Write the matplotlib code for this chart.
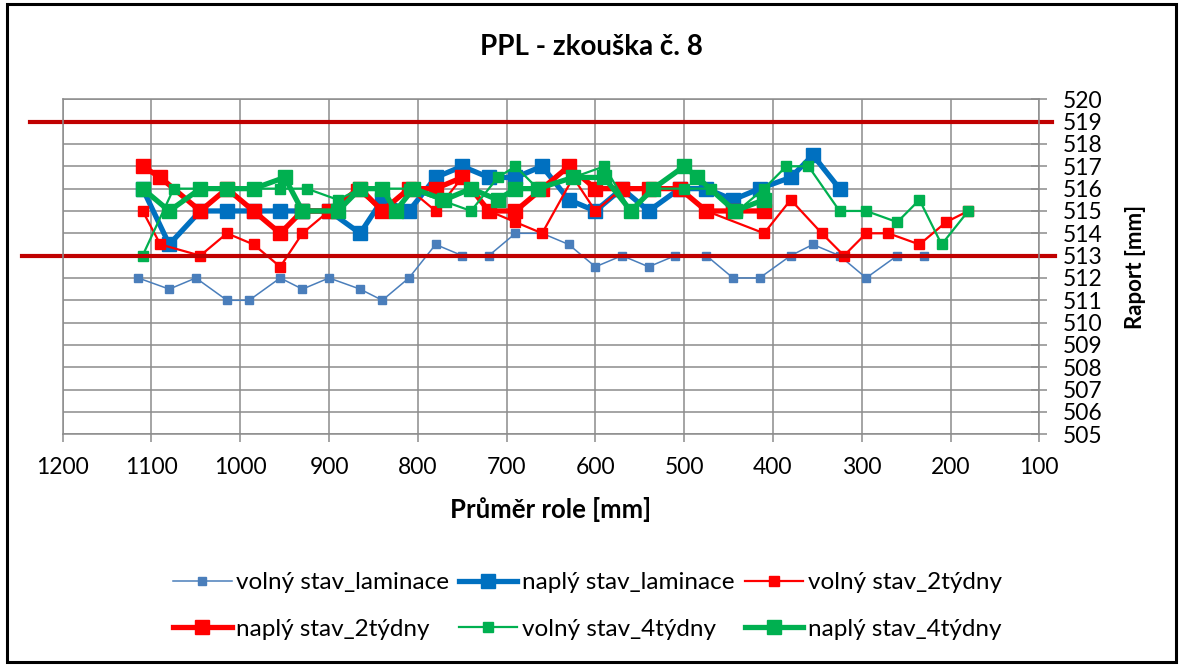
import matplotlib.pyplot as plt
from matplotlib.patches import Rectangle

plt.rcParams['font.family'] = ['Lato', 'DejaVu Sans']

# volný stav_laminace
vl_x = [1115, 1080, 1050, 1015, 990, 955, 930, 900, 865, 840, 810, 780, 750, 720, 690,
        660, 630, 600, 570, 540, 510, 475, 445, 415, 380, 355, 325, 295, 260, 230]
vl_y = [512, 511.5, 512, 511, 511, 512, 511.5, 512, 511.5, 511, 512, 513.5, 513, 513, 514,
        514, 513.5, 512.5, 513, 512.5, 513, 513, 512, 512, 513, 513.5, 513, 512, 513, 513]

# naplý stav_laminace
nl_x = [1110, 1080, 1045, 1015, 985, 955, 930, 900, 865, 840, 810, 780, 750, 720, 690,
        660, 630, 600, 570, 540, 505, 475, 445, 415, 380, 355, 325]
nl_y = [516, 513.5, 515, 515, 515, 515, 515, 515, 514, 515.5, 515, 516.5, 517, 516.5, 516.5,
        517, 515.5, 515, 516, 515, 516, 516, 515.5, 516, 516.5, 517.5, 516]

# volný stav_2týdny
v2_x = [1110, 1090, 1045, 1015, 985, 955, 930, 900, 870, 840, 810, 780, 750, 720, 690,
        660, 625, 600, 570, 540, 505, 475, 410, 380, 345, 320, 295, 270, 235, 205, 180]
v2_y = [515, 513.5, 513, 514, 513.5, 512.5, 514, 515, 516, 515, 516, 515, 516.5, 515, 514.5,
        514, 516.5, 515, 516, 516, 516, 515, 514, 515.5, 514, 513, 514, 514, 513.5, 514.5, 515]

# naplý stav_2týdny
n2_x = [1110, 1090, 1045, 1015, 985, 955, 930, 900, 865, 840, 810, 780, 750, 720, 690,
        660, 630, 600, 570, 540, 505, 475, 445, 410]
n2_y = [517, 516.5, 515, 516, 515, 514, 515, 515, 516, 515, 516, 516, 516.5, 515, 515,
        516, 517, 516, 516, 516, 516, 515, 515, 515]

# volný stav_4týdny
v4_x = [1110, 1075, 1045, 1015, 985, 955, 925, 890, 865, 840, 810, 775, 740, 710, 690,
        665, 625, 590, 560, 535, 500, 470, 440, 410, 385, 360, 325, 295, 260, 235, 210, 180]
v4_y = [513, 516, 516, 516, 516, 516, 516, 515.5, 516, 516, 516, 515.5, 515, 516.5, 517,
        516, 516.5, 517, 515, 516, 516, 516, 515, 516, 517, 517, 515, 515, 514.5, 515.5, 513.5, 515]

# naplý stav_4týdny
n4_x = [1110, 1080, 1045, 1015, 985, 950, 930, 890, 865, 840, 825, 805, 770, 740, 710,
        690, 665, 625, 590, 560, 535, 500, 485, 443, 410]
n4_y = [516, 515, 516, 516, 516, 516.5, 515, 515, 516, 516, 515, 516, 515.5, 516, 515.5,
        516, 516, 516.5, 516.5, 515, 516, 517, 516.5, 515, 515.5]

limits = [519, 513]

W, H = 1182, 666
fig = plt.figure(figsize=(W / 100, H / 100), dpi=100)
ax = fig.add_axes([62.7 / W, 1 - 434.3 / H, 976.6 / W, 335 / H])

grid_c = '#8c8c8c'
ax.set_xlim(1200, 100)
ax.set_ylim(505, 520)
ax.set_xticks(range(1200, 99, -100))
ax.set_yticks(range(505, 521))
ax.grid(True, color=grid_c, linewidth=1.1)
ax.set_axisbelow(True)
for s in ax.spines.values():
    s.set_color(grid_c)
    s.set_linewidth(1.1)

ax.yaxis.tick_right()
ax.yaxis.set_label_position('right')
ax.tick_params(axis='x', direction='out', length=6, width=1.1, color=grid_c, pad=10, labelsize=16.5)
ax.tick_params(axis='y', direction='inout', length=12, width=1.1, color=grid_c, pad=11, labelsize=16.5)

blue1 = '#4a7ebb'
blue2 = '#0070c0'
red = '#ff0000'
green = '#00b050'

l1, = ax.plot(vl_x, vl_y, color=blue1, lw=1.1, marker='s', ms=6, label='volný stav_laminace')
l2, = ax.plot(nl_x, nl_y, color=blue2, lw=3.8, marker='s', ms=10, label='naplý stav_laminace')
l3, = ax.plot(v2_x, v2_y, color=red, lw=1.6, marker='s', ms=6.5, label='volný stav_2týdny')
l4, = ax.plot(n2_x, n2_y, color=red, lw=3.8, marker='s', ms=10, label='naplý stav_2týdny')
l5, = ax.plot(v4_x, v4_y, color=green, lw=1.6, marker='s', ms=6.5, label='volný stav_4týdny')
l6, = ax.plot(n4_x, n4_y, color=green, lw=3.8, marker='s', ms=10, label='naplý stav_4týdny')

# limit lines run past the plot area
trans = ax.get_yaxis_transform()
ax.plot([-0.0335, 1.013], [limits[0]] * 2, color='#c00000', lw=3, transform=trans, clip_on=False)
ax.plot([-0.0417, 1.016], [limits[1]] * 2, color='#c00000', lw=3, transform=trans, clip_on=False)

ax.set_xlabel('Průměr role [mm]', fontsize=18.5, fontweight='bold', labelpad=14)
ax.set_ylabel('Raport [mm]', fontsize=16, fontweight='bold', labelpad=16)
fig.text(0.5, 1 - 47 / H, 'PPL - zkouška č. 8', ha='center', va='center',
         fontsize=20, fontweight='bold')

handles = [l1, l4, l2, l5, l3, l6]
fig.legend(handles, [h.get_label() for h in handles], loc='center', ncol=3,
           bbox_to_anchor=(0.497, 1 - 606 / H), frameon=False, fontsize=17.5,
           handlelength=2.4, handletextpad=0.2, columnspacing=0.4, labelspacing=1.05)

fig.add_artist(Rectangle((7 / W, 4 / H), 1169 / W, 658 / H, transform=fig.transFigure,
                         fill=False, edgecolor='black', lw=2.2))

fig.savefig('out.png', dpi=100)
